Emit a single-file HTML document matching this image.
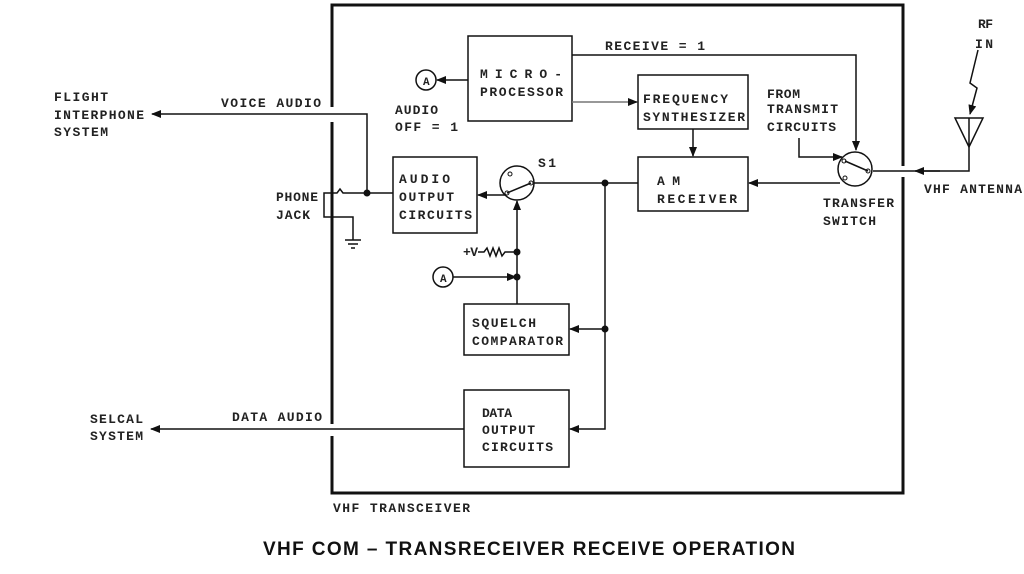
<!DOCTYPE html>
<html><head><meta charset="utf-8"><style>
html,body{margin:0;padding:0;background:#fff;width:1024px;height:574px;overflow:hidden}
svg{display:block}
.t{font-family:"Liberation Mono",monospace;font-weight:bold;font-size:13px;fill:#222}
</style></head><body>
<svg width="1024" height="574" viewBox="0 0 1024 574" xmlns="http://www.w3.org/2000/svg">
<defs>
<marker id="ar" markerWidth="10" markerHeight="10" refX="9" refY="5" orient="auto" markerUnits="userSpaceOnUse">
<path d="M0,1 L10,5 L0,9 Z" fill="#111"/></marker>
</defs>
<g fill="none" stroke="#111">
<!-- main box with gaps -->
<path d="M332,107 V5 H903 V166 M903,177 V493 H332 V436 M332,424 V122" stroke-width="3"/>
<g stroke-width="1.5">
<rect x="468" y="36" width="104" height="85"/>
<rect x="638" y="75" width="110" height="54"/>
<rect x="638" y="157" width="110" height="54"/>
<rect x="393" y="157" width="84" height="76"/>
<rect x="464" y="304" width="105" height="51"/>
<rect x="464" y="390" width="105" height="77"/>
<!-- receive line -->
<path d="M572,55 H856 V150" marker-end="url(#ar)"/>
<path d="M468,80 H437" marker-end="url(#ar)"/>
<circle cx="426" cy="80" r="10"/>
<path d="M572,102 H637" stroke="#777" marker-end="url(#ar)"/>
<path d="M693,129 V156" marker-end="url(#ar)"/>
<!-- from transmit -->
<path d="M799,138 V157 H842" marker-end="url(#ar)"/>
<circle cx="855" cy="169" r="17"/>
<path d="M840,183 H749" marker-end="url(#ar)"/>
<path d="M969,147 V171 H873"/>
<path d="M940,171 H915" marker-end="url(#ar)"/>
<path d="M955,118 H983 L969,147 Z M969,118 V147"/>
<path d="M978,50 L970,83 L977,88 L970,114" marker-end="url(#ar)"/>
<!-- S1 -->
<circle cx="517" cy="183" r="17"/>
<path d="M534,183 H638"/>
<path d="M506,195 H478" marker-end="url(#ar)"/>
<path d="M517,304 V201" marker-end="url(#ar)"/>
<path d="M605,183 V429 H570" marker-end="url(#ar)"/>
<path d="M605,329 H570" marker-end="url(#ar)"/>
<path d="M478,252 H484 l3,-4 l3,8 l3,-8 l3,8 l3,-8 l3,8 l3,-4 H517"/>
<path d="M453,277 H516" marker-end="url(#ar)"/>
<circle cx="443" cy="277" r="10"/>
<!-- voice audio -->
<path d="M367,193 V114 H152" marker-end="url(#ar)"/>
<path d="M332,193 h5 l3,-4 l3,4 H393"/>
<rect x="324" y="193" width="8" height="24"/>
<path d="M332,217 H353 V240 M345,240 H361 M348,244 H358 M351,248 H355"/>
<!-- data audio -->
<path d="M464,429 H151" marker-end="url(#ar)"/>
</g>
</g>
<g fill="#111">
<circle cx="367" cy="193" r="3.5"/>
<circle cx="605" cy="183" r="3.5"/>
<circle cx="605" cy="329" r="3.5"/>
<circle cx="517" cy="252" r="3.5"/>
<circle cx="517" cy="277" r="3.5"/>
</g>
<g fill="#fff" stroke="#111" stroke-width="1">
<circle cx="510" cy="174" r="2"/><circle cx="507" cy="193" r="2"/><circle cx="531" cy="183" r="2"/>
<circle cx="844" cy="161" r="2"/><circle cx="845" cy="178" r="2"/><circle cx="868" cy="171" r="2"/>
</g>
<path d="M510,174 M507,193 L531,183 M845,161 L868,171" stroke="#111" stroke-width="1.5"/>
<g class="t">
<text x="423" y="85" font-size="11">A</text>
<text x="440" y="282" font-size="11">A</text>
<text x="605" y="50" textLength="100">RECEIVE = 1</text>
<text x="480" y="78" textLength="82">MICRO-</text>
<text x="480" y="96" textLength="83">PROCESSOR</text>
<text x="395" y="114" textLength="43">AUDIO</text>
<text x="395" y="131" textLength="63">OFF = 1</text>
<text x="643" y="103" textLength="85">FREQUENCY</text>
<text x="643" y="121" textLength="102">SYNTHESIZER</text>
<text x="657" y="185" textLength="23">AM</text>
<text x="657" y="203" textLength="80">RECEIVER</text>
<text x="399" y="183" textLength="51">AUDIO</text>
<text x="399" y="201" textLength="55">OUTPUT</text>
<text x="399" y="219" textLength="73">CIRCUITS</text>
<text x="538" y="167" textLength="18">S1</text>
<text x="463" y="256" textLength="15">+V</text>
<text x="472" y="327" textLength="64">SQUELCH</text>
<text x="472" y="345" textLength="91">COMPARATOR</text>
<text x="482" y="417" textLength="30">DATA</text>
<text x="482" y="434" textLength="53">OUTPUT</text>
<text x="482" y="451" textLength="71">CIRCUITS</text>
<text x="232" y="421" textLength="90">DATA AUDIO</text>
<text x="90" y="423" textLength="53">SELCAL</text>
<text x="90" y="440" textLength="53">SYSTEM</text>
<text x="333" y="512" textLength="137">VHF TRANSCEIVER</text>
<text x="54" y="101" textLength="54">FLIGHT</text>
<text x="54" y="119" textLength="90">INTERPHONE</text>
<text x="54" y="136" textLength="54">SYSTEM</text>
<text x="221" y="107" textLength="100">VOICE AUDIO</text>
<text x="276" y="201" textLength="42">PHONE</text>
<text x="276" y="219" textLength="34">JACK</text>
<text x="823" y="207" textLength="71">TRANSFER</text>
<text x="823" y="225" textLength="53">SWITCH</text>
<text x="924" y="193" textLength="98">VHF ANTENNA</text>
<text x="767" y="98" textLength="33">FROM</text>
<text x="767" y="113" textLength="71">TRANSMIT</text>
<text x="767" y="131" textLength="69">CIRCUITS</text>
<text x="978" y="28" textLength="15">RF</text>
<text x="975" y="48" textLength="18">IN</text>
</g>
<text x="263" y="555" font-family="'Liberation Sans',sans-serif" font-weight="bold" font-size="19" textLength="532" fill="#111">VHF COM – TRANSRECEIVER RECEIVE OPERATION</text>
</svg>
</body></html>
